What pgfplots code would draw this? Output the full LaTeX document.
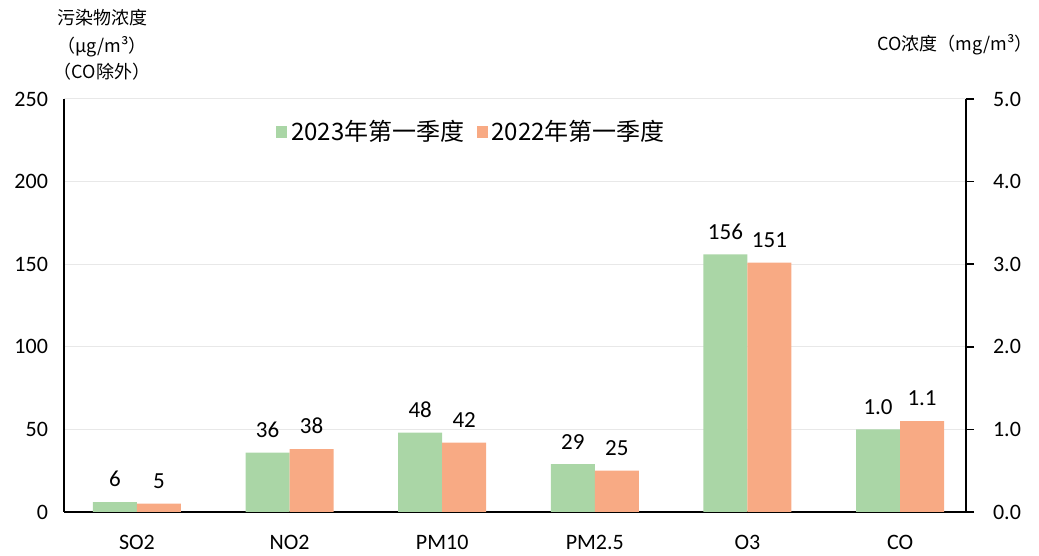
\documentclass[border=0pt]{standalone}
\usepackage{pgfplots}
\pgfplotsset{compat=1.18}
\usepackage{fontspec}
\setmainfont{Carlito}
\newfontfamily\cjk{Noto Sans CJK SC}
\definecolor{g23}{RGB}{170,214,166}
\definecolor{o22}{RGB}{248,170,132}
\begin{document}
\begin{tikzpicture}
\useasboundingbox (0,0) rectangle (519.5pt,278pt);
\begin{axis}[
  at={(32pt,22pt)}, anchor=south west, scale only axis,
  width=451pt, height=206.5pt,
  xmin=-0.478, xmax=5.432, ymin=0, ymax=250,
  ytick={0,50,...,250},
  xtick=data, xticklabels={SO2,NO2,PM10,PM2.5,O3,CO},
  axis x line*=bottom, axis y line*=left,
  axis line style={black, line width=0.8pt},
  x axis line style={-}, y axis line style={-},
  major tick length=0pt,
  ymajorgrids, grid style={gray!18, line width=0.5pt},
  ticklabel style={font=\fontsize{11}{13}\selectfont},
  yticklabel style={xshift=-4.5pt},
  xticklabel style={yshift=-8pt},
  /pgf/number format/assume math mode=true,
  ybar=0pt, bar width=22pt,
  nodes near coords,
  point meta=explicit symbolic,
  every node near coord/.append style={font=\fontsize{11.5}{13}\selectfont, yshift=4pt},
  legend style={at={(0.453,0.92)}, anchor=center, draw=none, fill=none,
    legend columns=2, font=\cjk\fontsize{12}{14}\selectfont,
    /tikz/every even column/.append style={column sep=4pt}},
  legend image code/.code={\fill[#1] (0pt,-2.8pt) rectangle (5.5pt,2.8pt);},
  clip=false,
]
\addplot[fill=g23, draw=none] table[meta=l] {
x y l
0 6 6
1 36 36
2 48 48
3 29 29
4 156 156
5 50 1.0
};
\addplot[fill=o22, draw=none] table[meta=l] {
x y l
0 5 5
1 38 38
2 42 42
3 25 25
4 151 151
5 55 1.1
};
\legend{2023年第一季度,2022年第一季度}
\end{axis}
\begin{axis}[
  at={(32pt,22pt)}, anchor=south west, scale only axis,
  width=451pt, height=206.5pt,
  xmin=-0.478, xmax=5.432, ymin=0, ymax=5,
  axis x line=none, axis y line*=right,
  axis line style={black, line width=0.8pt},
  y axis line style={-},
  ytick={0,1,...,5},
  yticklabel style={/pgf/number format/fixed, /pgf/number format/fixed zerofill, /pgf/number format/precision=1},
  /pgf/number format/assume math mode=true,
  tick style={black, line width=0.8pt},
  major tick length=4pt,
  tick align=outside,
  ticklabel style={font=\fontsize{11}{13}\selectfont},
  yticklabel style={xshift=6pt},
]
\addplot[draw=none] coordinates {(0,0)};
\end{axis}
\node[font=\cjk\fontsize{9}{10}\selectfont, align=center, anchor=north] at (51pt,277pt)
  {污染物浓度\\[4pt]（μg/m³）\\[3pt]（CO除外）};
\node[font=\cjk\fontsize{9}{10}\selectfont, anchor=center] at (477.5pt,255.5pt) {CO浓度（mg/m³）};
\end{tikzpicture}
\end{document}
